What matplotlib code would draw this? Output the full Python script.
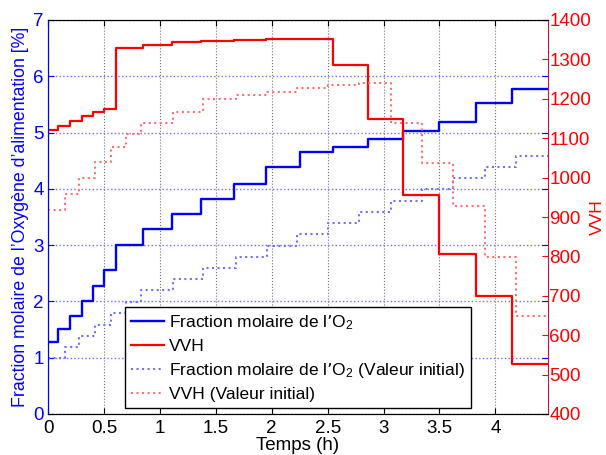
import numpy as np
import matplotlib.pyplot as plt

plt.rcParams['font.family'] = ['Liberation Sans', 'DejaVu Sans']
plt.rcParams['mathtext.default'] = 'regular'
plt.rcParams['font.size'] = 12.5

# fin de l'horizon (h)
T_END = 4.47

# profil optimise : instants de changement (h), O2 (%) et VVH
t_opt = [0, 0.09, 0.2, 0.3, 0.4, 0.5, 0.61, 0.85, 1.11, 1.37, 1.66, 1.95,
         2.25, 2.55, 2.86, 3.17, 3.5, 3.83, 4.15]
o2_opt = [1.28, 1.51, 1.74, 2.0, 2.28, 2.56, 3.0, 3.29, 3.56, 3.82, 4.08,
          4.39, 4.65, 4.75, 4.89, 5.03, 5.18, 5.52, 5.77]
vvh_opt = [1122, 1131, 1144, 1156, 1166, 1175, 1328, 1337, 1344, 1347, 1349,
           1352, 1353, 1287, 1149, 955, 807, 700, 526]

# profil initial
t_init = [0, 0.15, 0.28, 0.42, 0.56, 0.70, 0.835, 1.115, 1.39, 1.68, 1.96,
          2.23, 2.50, 2.78, 3.07, 3.34, 3.62, 3.91, 4.18]
o2_init = [1.0, 1.19, 1.38, 1.58, 1.79, 1.99, 2.2, 2.39, 2.59, 2.79, 2.98,
           3.19, 3.40, 3.59, 3.79, 3.99, 4.2, 4.38, 4.59]
vvh_init = [919, 959, 998, 1039, 1078, 1110, 1139, 1167, 1199, 1209, 1218,
            1228, 1235, 1239, 1139, 1038, 929, 799, 650]

x_ticks = [0, 0.5, 1, 1.5, 2, 2.5, 3, 3.5, 4]
x_labels = ['0', '0.5', '1', '1.5', '2', '2.5', '3', '3.5', '4']


def stairs(t, y):
    # prolonge le dernier palier jusqu'a la fin
    return list(t) + [T_END], list(y) + [y[-1]]


BLUE = '#0000ff'
RED = '#ff0000'
RSPINE = '#cc1040'
TICK_FS = 13.5

fig = plt.figure(figsize=(6.06, 4.55), dpi=100)
ax1 = fig.add_axes([48 / 606, 1 - 414 / 455, 500 / 606, 394 / 455])
ax2 = ax1.twinx()

x, y = stairs(t_opt, o2_opt)
l1, = ax1.step(x, y, where='post', color=BLUE, lw=1.7)
x, y = stairs(t_init, o2_init)
l3, = ax1.step(x, y, where='post', color='#7070ff', lw=1.5, ls=':')

x, y = stairs(t_opt, vvh_opt)
l2, = ax2.step(x, y, where='post', color=RED, lw=1.6)
x, y = stairs(t_init, vvh_init)
l4, = ax2.step(x, y, where='post', color='#ff7070', lw=1.5, ls=':')

ax1.set_xlim(0, T_END)
ax1.set_ylim(0, 7)
ax2.set_ylim(400, 1400)
ax1.set_xticks(x_ticks)
ax1.set_xticklabels(x_labels)
ax1.set_yticks(range(0, 8))
ax2.set_yticks(range(400, 1401, 100))

ax1.xaxis.grid(True, color='0.45', ls=':', lw=0.8)
ax1.yaxis.grid(True, color='#6f6fff', ls=':', lw=1.0)

ax1.tick_params(axis='x', direction='in', top=True, length=4, width=0.8,
                colors='black', pad=4, labelsize=TICK_FS)
ax1.tick_params(axis='y', direction='in', left=True, right=True,
                labelright=False, length=4, width=0.8, colors=BLUE, pad=3,
                labelsize=TICK_FS)
ax2.tick_params(axis='y', direction='in', length=4, width=0.8, colors=RED,
                pad=1, labelsize=TICK_FS)

ax1.spines['left'].set_color(BLUE)
ax2.spines['left'].set_color(BLUE)
ax1.spines['right'].set_visible(False)
ax2.spines['right'].set_color(RSPINE)
for a in (ax1, ax2):
    a.spines['top'].set_color('black')
    a.spines['bottom'].set_color('black')

ax1.set_xlabel('Temps (h)', labelpad=0, fontsize=13.5)
ax1.set_ylabel('Fraction molaire de l’Oxygène d’alimentation [%]',
               color=BLUE, labelpad=3, fontsize=12.8)
ax2.set_ylabel('VVH', color=RED, rotation=90, fontsize=12.5)
ax2.yaxis.set_label_coords(1.084, 0.5)

leg = ax2.legend([l1, l2, l3, l4],
                 ['Fraction molaire de l’O$_2$', 'VVH',
                  'Fraction molaire de l’O$_2$ (Valeur initial)',
                  'VVH (Valeur initial)'],
                 loc='lower left', bbox_to_anchor=(125 / 606, 1 - 408 / 455),
                 bbox_transform=fig.transFigure, borderaxespad=0,
                 fancybox=False, framealpha=1, edgecolor='black',
                 handlelength=1.9, handletextpad=0.3, labelspacing=0.4,
                 borderpad=0.35, fontsize=12.5)
leg.get_frame().set_linewidth(1.0)

fig.savefig('out.png', dpi=100)
